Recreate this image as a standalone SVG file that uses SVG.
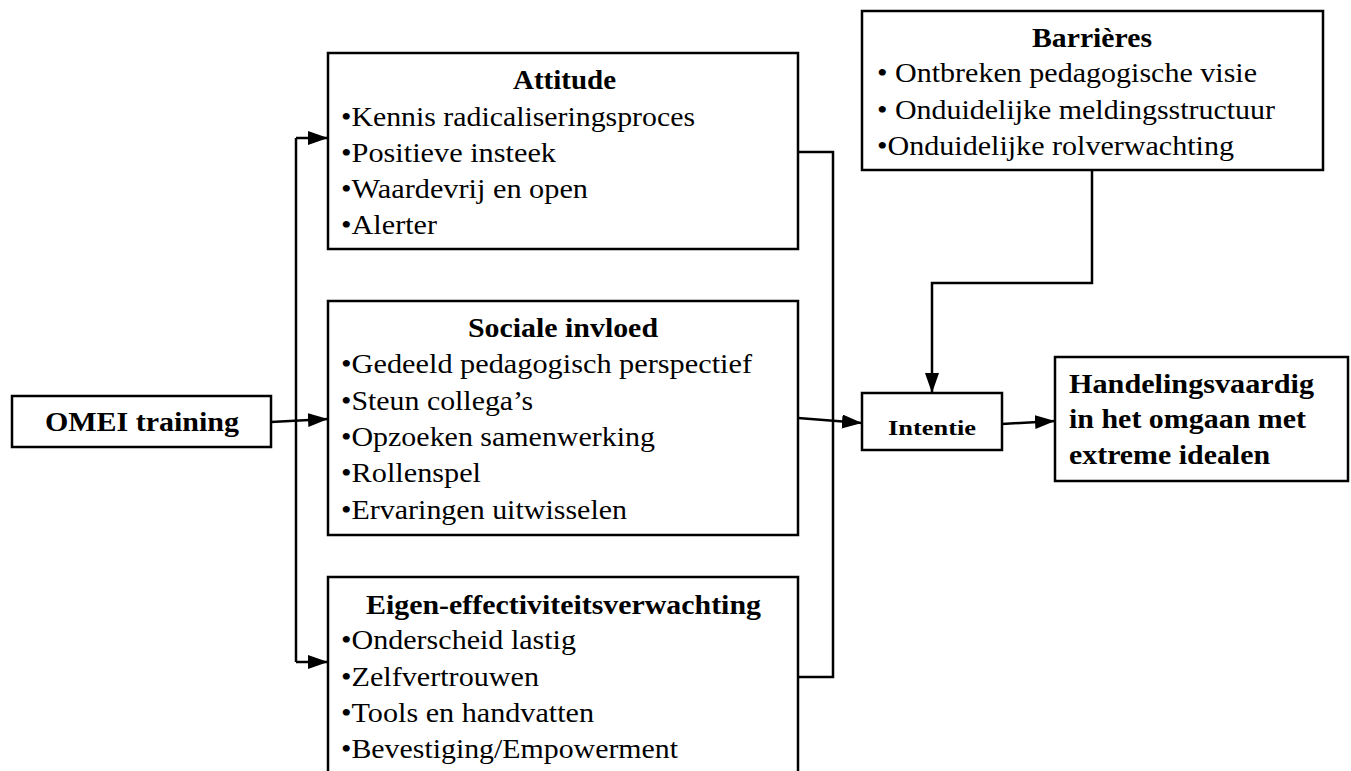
<svg xmlns="http://www.w3.org/2000/svg" width="1351" height="771" viewBox="0 0 1351 771">
<defs>
<marker id="arr" markerUnits="userSpaceOnUse" markerWidth="22" markerHeight="16" refX="20" refY="7" orient="auto">
<path d="M0,0 L20,7 L0,14 z" fill="#000"/>
</marker>
<style>
.box{fill:#fff;stroke:#000;stroke-width:2.5}
.t{font-family:"Liberation Serif","Times New Roman",serif;font-size:27px;fill:#000}
.b{font-family:"Liberation Serif","Times New Roman",serif;font-size:27px;font-weight:bold;fill:#000}
.c{fill:none;stroke:#000;stroke-width:2.5}
</style>
</defs>
<rect width="1351" height="771" fill="#fff"/>
<g id="connectors">
<polyline class="c" points="296,138 296,662"/>
<line class="c" x1="296" y1="138" x2="328" y2="138" marker-end="url(#arr)"/>
<line class="c" x1="296" y1="662" x2="328" y2="662" marker-end="url(#arr)"/>
<line class="c" x1="271" y1="422" x2="328" y2="419" marker-end="url(#arr)"/>
<polyline class="c" points="798,152 833,152 833,677 798,677"/>
<line class="c" x1="798" y1="418" x2="862" y2="423" marker-end="url(#arr)"/>
<polyline class="c" points="1092,170 1092,283 932,283 932,393" marker-end="url(#arr)"/>
<line class="c" x1="1002" y1="424" x2="1055" y2="421" marker-end="url(#arr)"/>
</g>
<g id="omei">
<rect class="box" x="12" y="396" width="259" height="51"/>
<text class="b" x="45" y="431" textLength="194" lengthAdjust="spacingAndGlyphs">OMEI training</text>
</g>
<g id="attitude">
<rect class="box" x="328" y="53" width="470" height="196"/>
<text class="b" x="513" y="89" textLength="103" lengthAdjust="spacingAndGlyphs">Attitude</text>
<text class="t" x="341" y="126" textLength="354" lengthAdjust="spacingAndGlyphs">•Kennis radicaliseringsproces</text>
<text class="t" x="341" y="162" textLength="215" lengthAdjust="spacingAndGlyphs">•Positieve insteek</text>
<text class="t" x="341" y="198" textLength="247" lengthAdjust="spacingAndGlyphs">•Waardevrij en open</text>
<text class="t" x="341" y="234" textLength="96" lengthAdjust="spacingAndGlyphs">•Alerter</text>
</g>
<g id="sociale">
<rect class="box" x="328" y="301" width="470" height="234"/>
<text class="b" x="468" y="337" textLength="190" lengthAdjust="spacingAndGlyphs">Sociale invloed</text>
<text class="t" x="341" y="373" textLength="411" lengthAdjust="spacingAndGlyphs">•Gedeeld pedagogisch  perspectief</text>
<text class="t" x="341" y="410" textLength="192" lengthAdjust="spacingAndGlyphs">•Steun collega’s</text>
<text class="t" x="341" y="446" textLength="314" lengthAdjust="spacingAndGlyphs">•Opzoeken samenwerking</text>
<text class="t" x="341" y="482" textLength="140" lengthAdjust="spacingAndGlyphs">•Rollenspel</text>
<text class="t" x="341" y="519" textLength="286" lengthAdjust="spacingAndGlyphs">•Ervaringen uitwisselen</text>
</g>
<g id="eigen">
<rect class="box" x="328" y="577" width="470" height="210"/>
<text class="b" x="366" y="614" textLength="395" lengthAdjust="spacingAndGlyphs">Eigen-effectiviteitsverwachting</text>
<text class="t" x="341" y="649" textLength="235" lengthAdjust="spacingAndGlyphs">•Onderscheid lastig</text>
<text class="t" x="341" y="686" textLength="198" lengthAdjust="spacingAndGlyphs">•Zelfvertrouwen</text>
<text class="t" x="341" y="722" textLength="253" lengthAdjust="spacingAndGlyphs">•Tools en handvatten</text>
<text class="t" x="341" y="758" textLength="337" lengthAdjust="spacingAndGlyphs">•Bevestiging/Empowerment</text>
</g>
<g id="barrieres">
<rect class="box" x="862" y="11" width="461" height="159"/>
<text class="b" x="1032" y="47" textLength="120" lengthAdjust="spacingAndGlyphs">Barrières</text>
<text class="t" x="877" y="82" textLength="380" lengthAdjust="spacingAndGlyphs">• Ontbreken pedagogische visie</text>
<text class="t" x="877" y="119" textLength="398" lengthAdjust="spacingAndGlyphs">• Onduidelijke meldingsstructuur</text>
<text class="t" x="877" y="155" textLength="357" lengthAdjust="spacingAndGlyphs">•Onduidelijke rolverwachting</text>
</g>
<g id="intentie">
<rect class="box" x="862" y="393" width="140" height="57"/>
<text class="b" x="888" y="435" textLength="88" lengthAdjust="spacingAndGlyphs" style="font-size:21px">Intentie</text>
</g>
<g id="handelings">
<rect class="box" x="1055" y="357" width="293" height="124"/>
<text class="b" x="1069" y="393" textLength="245" lengthAdjust="spacingAndGlyphs">Handelingsvaardig</text>
<text class="b" x="1069" y="428" textLength="237" lengthAdjust="spacingAndGlyphs">in het omgaan met</text>
<text class="b" x="1069" y="464" textLength="201" lengthAdjust="spacingAndGlyphs">extreme idealen</text>
</g>
</svg>
